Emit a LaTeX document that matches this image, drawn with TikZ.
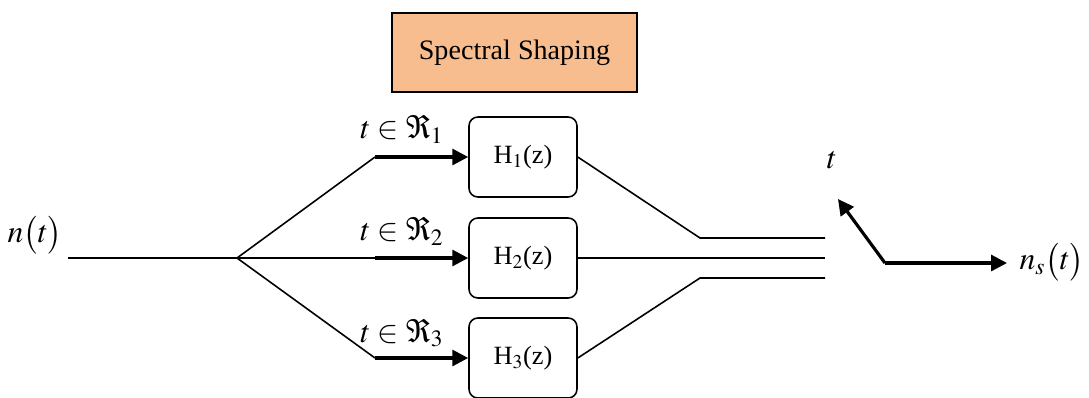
\documentclass[tikz,border=0pt]{standalone}
\usepackage{mathptmx}
\usepackage[no-math]{fontspec}
\setmainfont{Liberation Serif}
\usetikzlibrary{arrows.meta}
\definecolor{shapefill}{RGB}{247,189,142}
\tikzset{
  thin line/.style={line width=0.9pt},
  feed/.style={line width=1.8pt,-{Triangle[length=9pt,width=9pt]}},
  filt/.style={draw,line width=0.9pt,rounded corners=5pt,minimum width=2.16cm,minimum height=1.6cm,font=\fontsize{15}{17}\selectfont},
  lbl/.style={font=\fontsize{18}{20}\selectfont}
}

\begin{document}
\begin{tikzpicture}[x=0.02cm,y=-0.02cm]
  \useasboundingbox (0,0) rectangle (1089,397);

  \node[draw,line width=0.9pt,fill=shapefill,minimum width=4.9cm,minimum height=1.58cm,
        font=\fontsize{16}{18}\selectfont] (shaping) at (514.5,52.5) {Spectral Shaping};

  \coordinate (in)  at (68,258);
  \coordinate (S)   at (237,258);
  \coordinate (K1)  at (375,157);
  \coordinate (K2)  at (375,258);
  \coordinate (K3)  at (375,358);
  \coordinate (J1)  at (700,238);
  \coordinate (J3)  at (700,278);
  \coordinate (E1)  at (825,238);
  \coordinate (E2)  at (825,258);
  \coordinate (E3)  at (825,278);
  \coordinate (P)   at (885,263);
  \coordinate (Pt)  at (838,199);
  \coordinate (Pn)  at (1007,263);

  \node[filt] (H1) at (523,157) {H$_1$(z)};
  \node[filt] (H2) at (523,258) {H$_2$(z)};
  \node[filt] (H3) at (523,358) {H$_3$(z)};

  % input and splitting
  \draw[thin line] (in) -- (S);
  \draw[thin line] (S) -- (K1);
  \draw[thin line] (S) -- (K2);
  \draw[thin line] (S) -- (K3);
  \draw[feed] (K1) -- (K1 -| H1.west);
  \draw[feed] (K2) -- (K2 -| H2.west);
  \draw[feed] (K3) -- (K3 -| H3.west);

  % outputs
  \draw[thin line] (H1.east) -- (J1) -- (E1);
  \draw[thin line] (H2.east) -- (E2);
  \draw[thin line] (H3.east) -- (J3) -- (E3);

  % axes
  \draw[feed] (P) -- (Pt);
  \draw[feed] (P) -- (Pn);

  \node[lbl] (nt)  at (35,235)   {$n\big(t\big)$};
  \node[lbl] (r1)  at (402,129)  {$t\in\Re_1$};
  \node[lbl] (r2)  at (402,231)  {$t\in\Re_2$};
  \node[lbl] (r3)  at (402,333)  {$t\in\Re_3$};
  \node[lbl] (tax) at (832,160)  {$t$};
  \node[lbl] (ns)  at (1052,262) {$n_s\big(t\big)$};
\end{tikzpicture}
\end{document}
